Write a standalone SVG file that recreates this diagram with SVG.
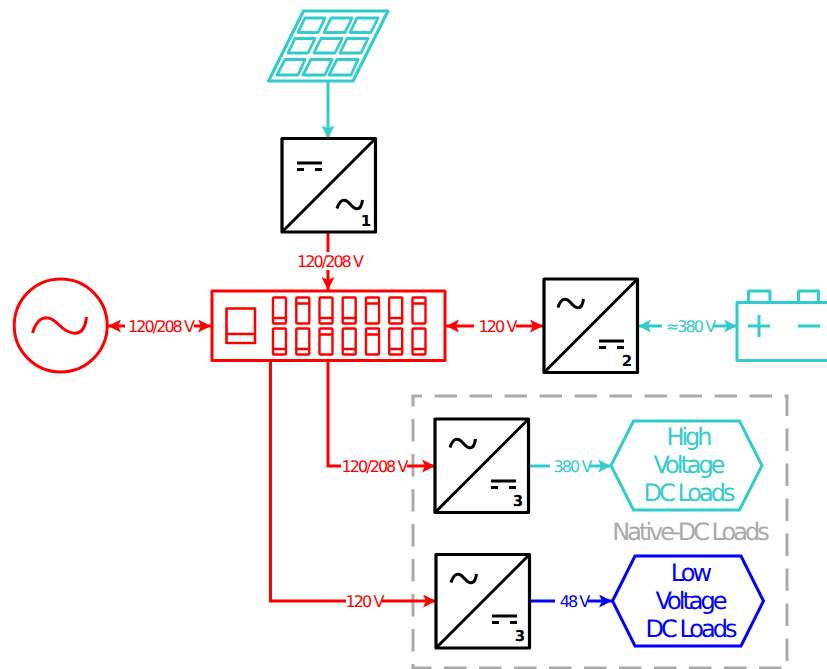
<svg xmlns="http://www.w3.org/2000/svg" width="827" height="669" viewBox="0 0 827 669">
<style>
text{font-family:"DejaVu Sans",sans-serif;text-rendering:geometricPrecision}
.lab{font-size:16px;letter-spacing:-.122em;text-anchor:middle}
.big{font-size:24px;letter-spacing:-.125em;text-anchor:middle}
.num{font-size:15px;font-weight:bold;fill:#000;text-anchor:middle}
.conn{fill:none;stroke-width:3}
.r{stroke:#f00}.c{stroke:#3cc}.b{stroke:#00f}
.tr{fill:#f00}.tc{fill:#3cc}.tb{fill:#00f}
.box{fill:#fff;stroke:#000;stroke-width:3.2;stroke-linejoin:round}
.ink{fill:none;stroke:#000;stroke-width:3}
.brk{fill:none;stroke:#f00;stroke-width:2.4;stroke-linejoin:round}
</style>
<defs>
<marker id="ar" viewBox="0 0 13 13" refX="13" refY="6.500" markerWidth="13" markerHeight="13" markerUnits="userSpaceOnUse" orient="auto-start-reverse"><path d="M0,0L13,6.500L0,13L3,6.500Z" fill="#f00"/></marker>
<marker id="ac" viewBox="0 0 13 13" refX="13" refY="6.500" markerWidth="13" markerHeight="13" markerUnits="userSpaceOnUse" orient="auto-start-reverse"><path d="M0,0L13,6.500L0,13L3,6.500Z" fill="#3cc"/></marker>
<marker id="ab" viewBox="0 0 13 13" refX="13" refY="6.500" markerWidth="13" markerHeight="13" markerUnits="userSpaceOnUse" orient="auto-start-reverse"><path d="M0,0L13,6.500L0,13L3,6.500Z" fill="#00f"/></marker>
<g id="frame"><rect class="box" x="0" y="0" width="93.5" height="93.5"/><path class="ink" d="M0,93.5L93.5,0"/></g>
<path id="wave" class="ink" d="M0,8.500C3,-1 8,-2 13,4C18,10 24,12 25.500,0"/>
<g id="dc"><path class="ink" d="M0,0H25M0,6.500H7M18,6.500H25"/></g>
<g id="brk"><rect class="brk" x="0" y="0" width="13" height="26" rx="1"/></g>
</defs>

<g id="native-dc-region"><rect x="413" y="396" width="374" height="272" fill="none" stroke="#aaa" stroke-width="3" stroke-dasharray="22.500 12.500" stroke-dashoffset="13.500"/>
<text class="big" x="689.500" y="540" fill="#aaa">Native-DC Loads</text></g>

<g id="connectors">
<path class="conn c" d="M328,82V138.500" marker-end="url(#ac)"/>
<path class="conn r" d="M328,232V252"/>
<path class="conn r" d="M328,270V290" marker-end="url(#ar)"/>
<path class="conn r" d="M108,326H125" marker-start="url(#ar)"/>
<path class="conn r" d="M194,326H211" marker-end="url(#ar)"/>
<path class="conn r" d="M446,326H474" marker-start="url(#ar)"/>
<path class="conn r" d="M516,326H543" marker-end="url(#ar)"/>
<path class="conn c" d="M638,326H662" marker-start="url(#ac)"/>
<path class="conn c" d="M713,326H737" marker-end="url(#ac)"/>
<path class="conn r" d="M328,361V466H341"/>
<path class="conn r" d="M407,466H435" marker-end="url(#ar)"/>
<path class="conn r" d="M270.500,361V601H346"/>
<path class="conn r" d="M382,601H436" marker-end="url(#ar)"/>
<path class="conn c" d="M529,466H550"/>
<path class="conn c" d="M590,466H611" marker-end="url(#ac)"/>
<path class="conn b" d="M530,601H555"/>
<path class="conn b" d="M588,601H612" marker-end="url(#ab)"/>
<text class="lab tr" x="329.500" y="266.500">120/208 V</text>
<text class="lab tr" x="160.500" y="331.500">120/208 V</text>
<text class="lab tr" x="497" y="331.500">120 V</text>
<text class="lab tc" x="690" y="331.500">≈380 V</text>
<text class="lab tr" x="374" y="471.500">120/208 V</text>
<text class="lab tr" x="364" y="607">120 V</text>
<text class="lab tc" x="572" y="471.500">380 V</text>
<text class="lab tb" x="574" y="607">48 V</text>
</g>

<g id="solar-panel" fill="none" stroke="#3cc" stroke-linejoin="round">
<path stroke-width="3.200" d="M303.500,11H388L353,81H268.500Z"/>
<path stroke-width="2.800" d="M305,18H325L318,32.500H298ZM331,18H352L345,32.500H324ZM357,18H378L371,32.500H350ZM295,38.500H315L308,53H288ZM321,38.500H342L335,53H314ZM347,38.500H368L361,53H340ZM285,59.500H305L298,75H277ZM311,59.500H332L325,75H303ZM337,59.500H358L351,75H329Z"/>
</g>

<g id="converter-1">
<use href="#frame" x="282" y="138.500"/>
<use href="#dc" x="297" y="163"/>
<use href="#wave" x="337" y="200"/>
<text class="num" x="366" y="226">1</text>
</g>
<g id="converter-2">
<use href="#frame" x="544" y="279"/>
<use href="#wave" x="558" y="299"/>
<use href="#dc" x="599" y="341"/>
<text class="num" x="627" y="366">2</text>
</g>
<g id="converter-3a">
<use href="#frame" x="435" y="419"/>
<use href="#wave" x="450" y="439"/>
<use href="#dc" x="491" y="481"/>
<text class="num" x="518" y="506">3</text>
</g>
<g id="converter-3b">
<use href="#frame" x="436" y="554.500"/>
<use href="#wave" x="451" y="574"/>
<use href="#dc" x="492" y="616"/>
<text class="num" x="520" y="641">3</text>
</g>

<g id="grid-source"><circle cx="60.700" cy="325.500" r="46.500" fill="none" stroke="#f00" stroke-width="3"/>
<path fill="none" stroke="#f00" stroke-width="3" d="M32.500,333C37,317 47,313 58,324C69,335 84,340 86.500,317"/></g>

<g id="breaker-panel">
<rect x="212" y="291" width="233" height="69.500" fill="none" stroke="#f00" stroke-width="3" stroke-linejoin="round"/>
<path class="brk" style="stroke-width:2.600" d="M226.500,308.500H255V343H226.500ZM226.500,334H255"/>
<use href="#brk" x="273" y="297.500"/><use href="#brk" x="296.300" y="297.500"/><use href="#brk" x="319.500" y="297.500"/><use href="#brk" x="342.700" y="297.500"/><use href="#brk" x="366" y="297.500"/><use href="#brk" x="389.200" y="297.500"/><use href="#brk" x="412.500" y="297.500"/>
<use href="#brk" x="273" y="328.500"/><use href="#brk" x="296.300" y="328.500"/><use href="#brk" x="319.500" y="328.500"/><use href="#brk" x="342.700" y="328.500"/><use href="#brk" x="366" y="328.500"/><use href="#brk" x="389.200" y="328.500"/><use href="#brk" x="412.500" y="328.500"/>
<path class="brk" d="M273,318H286M296.300,303.500H309.300M319.500,318H332.500M342.700,318H355.700M366,303.500H379M389.200,318H402.200M412.500,303.500H425.500M273,349H286M296.300,349H309.300M319.500,334.500H332.500M342.700,349H355.700M366,334.500H379M389.200,349H402.200M412.500,349H425.500"/>
</g>

<g id="battery" fill="none" stroke="#3cc" stroke-width="3" stroke-linejoin="round">
<path d="M830,302.500H737V360.500H830"/>
<path d="M748.500,302.500V291H770V302.500M798.500,302.500V291H818.500V302.500"/>
<path d="M748,326H770M759,315V337M798,326H820"/>
</g>

<g id="high-voltage-loads"><path d="M611,465.500L633.500,421H739.500L762,465.500L739.500,510H633.500Z" fill="none" stroke="#3cc" stroke-width="3"/>
<text class="big tc" x="688" y="445">High</text><text class="big tc" x="688" y="473">Voltage</text><text class="big tc" x="688" y="501">DC Loads</text></g>
<g id="low-voltage-loads"><path d="M612.500,601L635,556H741L763.500,601L741,646H635Z" fill="none" stroke="#00f" stroke-width="3"/>
<text class="big tb" x="690" y="581">Low</text><text class="big tb" x="690" y="609">Voltage</text><text class="big tb" x="690" y="637">DC Loads</text></g>
</svg>
